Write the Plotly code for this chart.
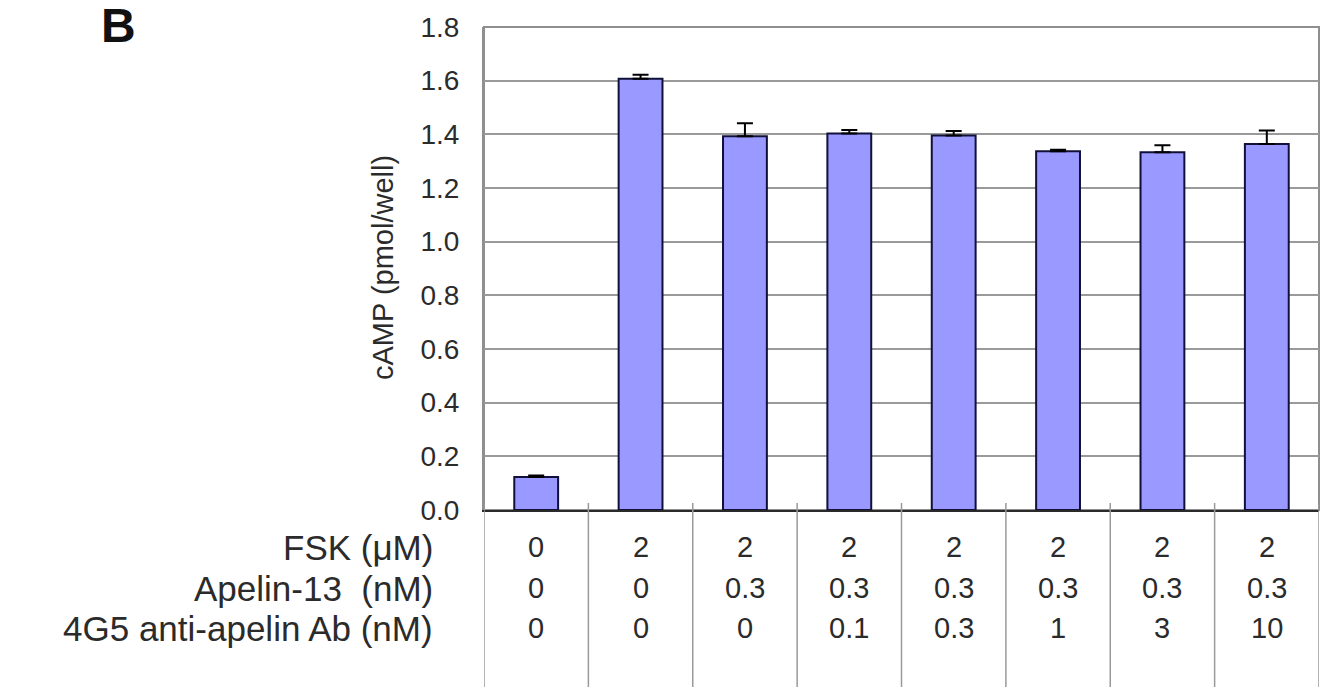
import plotly.graph_objects as go

# ---- data ----
conditions = ["1", "2", "3", "4", "5", "6", "7", "8"]
camp = [0.123, 1.607, 1.393, 1.403, 1.396, 1.337, 1.333, 1.364]
camp_err = [0.006, 0.015, 0.048, 0.013, 0.016, 0.006, 0.026, 0.05]
fsk = ["0", "2", "2", "2", "2", "2", "2", "2"]
apelin13 = ["0", "0", "0.3", "0.3", "0.3", "0.3", "0.3", "0.3"]
ab4g5 = ["0", "0", "0", "0.1", "0.3", "1", "3", "10"]
row_labels = ["FSK (\u03bcM)", "Apelin-13  (nM)", "4G5 anti-apelin Ab (nM)"]
y_ticks = [0.0, 0.2, 0.4, 0.6, 0.8, 1.0, 1.2, 1.4, 1.6, 1.8]

W, H = 1330, 687
L, R, T, B = 484, 11, 27, 177
plot_h = H - T - B
plot_w = W - L - R


def py(pix):
    return (H - B - pix) / plot_h


def px(pix):
    return (pix - L) / plot_w


FONT = "Liberation Sans, Arial, sans-serif"
TXT = "#2b2b2b"
xs = list(range(len(conditions)))

fig = go.Figure()
fig.add_trace(go.Bar(
    x=xs, y=camp, width=0.42,
    marker=dict(color="#9999ff", line=dict(color="#10103a", width=2)),
    error_y=dict(type="data", symmetric=False, array=camp_err,
                 arrayminus=[0] * len(camp_err), color="#000000",
                 thickness=2, width=8),
    showlegend=False, hoverinfo="skip",
))

shapes = []
annotations = []

# plot-area frame (top/right/left)
shapes.append(dict(type="rect", xref="paper", yref="paper", x0=0, x1=1,
                   y0=0, y1=1, line=dict(color="#8f8f8f", width=2),
                   layer="below"))

# table vertical separators
for i in range(len(conditions) + 1):
    xb = i - 0.5
    shapes.append(dict(type="line", xref="x", yref="paper", x0=xb, x1=xb,
                       y0=py(503), y1=py(687),
                       line=dict(color="#9a9a9a", width=1.5)))

row_pix = [547, 588, 628]
rows = [fsk, apelin13, ab4g5]
for r, (vals, lab, yp) in enumerate(zip(rows, row_labels, row_pix)):
    annotations.append(dict(x=px(435), y=py(yp), xref="paper", yref="paper",
                            text=lab, showarrow=False, xanchor="right",
                            yanchor="middle",
                            font=dict(family=FONT, size=35, color=TXT)))
    for i, v in enumerate(vals):
        annotations.append(dict(x=xs[i], y=py(yp), xref="x", yref="paper",
                                text=v, showarrow=False, xanchor="center",
                                yanchor="middle",
                                font=dict(family=FONT, size=29, color=TXT)))

# y-axis title
annotations.append(dict(x=px(383), y=py(268), xref="paper", yref="paper",
                        text="cAMP (pmol/well)", textangle=-90, showarrow=False,
                        xanchor="center", yanchor="middle",
                        font=dict(family=FONT, size=29, color=TXT)))
# panel letter
annotations.append(dict(x=px(99), y=py(26), xref="paper", yref="paper",
                        text="<b>B</b>", showarrow=False, xanchor="left",
                        yanchor="middle",
                        font=dict(family=FONT, size=48, color="#111111")))

fig.update_layout(
    width=W, height=H,
    margin=dict(l=L, r=R, t=T, b=B, pad=0),
    paper_bgcolor="white", plot_bgcolor="white",
    shapes=shapes, annotations=annotations,
    xaxis=dict(range=[-0.5, len(conditions) - 0.5], showticklabels=False,
               showgrid=False, zeroline=False, showline=True,
               linecolor="#2a2a2a", linewidth=2, mirror=False, ticks=""),
    yaxis=dict(range=[0, 1.8], tickvals=y_ticks, tickformat=".1f",
               showgrid=True, gridcolor="#9a9a9a", gridwidth=1.5,
               zeroline=False, showline=True, linecolor="#8f8f8f",
               linewidth=2, mirror=False, ticks="", ticklabelstandoff=17,
               tickfont=dict(family=FONT, size=28, color=TXT)),
)

fig.write_html("out.html")
